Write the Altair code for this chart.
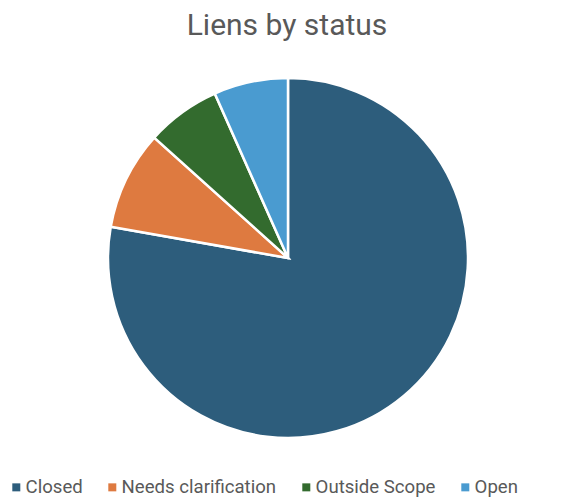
import altair as alt
import pandas as pd

statuses = ["Closed", "Needs clarification", "Outside Scope", "Open"]
counts = [35, 4, 3, 3]
colors = ["#2D5D7C", "#DE7A40", "#336B2E", "#4A9BD0"]

df = pd.DataFrame({"status": statuses, "count": counts, "order": list(range(len(statuses)))})

pie = alt.Chart(df).mark_arc(
    radius=180, stroke="white", strokeWidth=2.5
).encode(
    theta=alt.Theta("count:Q", stack=True),
    color=alt.Color(
        "status:N",
        scale=alt.Scale(domain=statuses, range=colors),
        sort=statuses,
        legend=alt.Legend(
            title=None,
            orient="none",
            legendX=-1,
            legendY=420,
            direction="horizontal",
            symbolType="square",
            symbolSize=64,
            symbolStrokeWidth=0,
            labelFontSize=18.6,
            labelFont="Roboto",
            labelColor="#595959",
            labelOffset=0,
            columnPadding=20,
            labelLimit=300,
        ),
    ),
    order=alt.Order("order:Q"),
    x=alt.value(280),
    y=alt.value(200),
).properties(
    width=558,
    height=439,
    autosize=alt.AutoSizeParams(type="none"),
    padding={"left": 0, "top": 50, "right": 0, "bottom": 0},
    title=alt.TitleParams(
        "Liens by status",
        anchor="middle",
        fontSize=30,
        font="Roboto",
        fontWeight="normal",
        color="#595959",
        baseline="alphabetic",
        offset=-7,
        dx=0,
    ),
).configure_view(stroke=None)

chart = pie
chart.save("out.html", embed_options={"renderer": "svg", "actions": False})
